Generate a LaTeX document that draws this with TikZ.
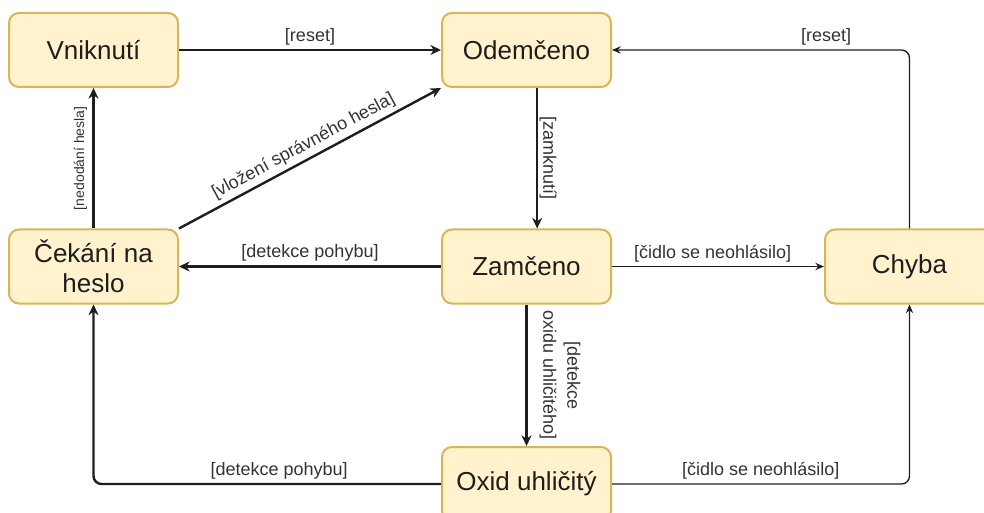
\documentclass[tikz,border=0pt]{standalone}
\usepackage{fontspec}
\setmainfont{Liberation Sans}
\usetikzlibrary{arrows.meta}
\definecolor{lkFill}{HTML}{FFF2CC}
\definecolor{lkLine}{HTML}{D6B656}
\definecolor{lkInk}{HTML}{1E1E1E}
\definecolor{lkText}{HTML}{333333}
\tikzset{
  lk state/.style={rectangle, rounded corners=7.5pt, draw=lkLine, fill=lkFill, line width=1.5pt, minimum width=126.75pt, minimum height=55.5pt, inner sep=0pt, align=center, font=\fontsize{19.5}{22.5}\selectfont, text=lkInk},
  lk edge/.style={draw=lkInk, line width=1.8pt, -{Stealth[length=8pt,width=7.5pt]}},
  lk thin edge/.style={draw=lkInk, line width=1pt, -{Stealth[length=6.5pt,width=5.5pt]}},
  lk label/.style={font=\fontsize{13.5}{18}\selectfont, text=lkText, inner sep=2pt},
  lk small label/.style={font=\fontsize{10.5}{13}\selectfont, text=lkText, inner sep=2pt},
}

\begin{document}
\begin{tikzpicture}[x=0.75pt, y=-0.75pt]
  \useasboundingbox (0,0) rectangle (984,513);
  \clip (0,0) rectangle (984,513);

  % States
  \node[lk state] (vnik)   at (93.5,50)   {Vniknutí};
  \node[lk state] (odem)   at (526.5,50)  {Odemčeno};
  \node[lk state] (cekani) at (93.5,266.5) {Čekání na\\heslo};
  \node[lk state] (zamc)   at (526.5,266.5) {Zamčeno};
  \node[lk state] (chyba)  at (909.5,266.5) {Chyba};
  \node[lk state] (oxid)   at (526.5,484) {Oxid uhličitý};

  % Top row
  \draw[lk edge] (vnik) -- node[lk label, midway, above=1pt] {[reset]} (odem);
  \draw[lk thin edge, rounded corners=6pt] (chyba.north) |- node[lk label, pos=0.64, above=1pt] {[reset]} (odem.east);

  % Around the waiting state
  \draw[lk edge] (cekani) -- node[lk small label, midway, sloped, above=2pt] {[nedodání hesla]} (vnik);
  \draw[lk edge] (cekani.north east) -- node[lk label, midway, sloped, above=1pt] {[vložení správného hesla]} (odem.south west);

  % Middle row
  \draw[lk edge] ([xshift=8pt]odem.south) -- node[lk label, midway, sloped, above=0pt, inner sep=1pt] {[zamknutí]} ([xshift=8pt]zamc.north);
  \draw[lk edge] (zamc) -- node[lk label, midway, above=1pt] {[detekce pohybu]} (cekani);
  \draw[lk thin edge] (zamc) -- node[lk label, midway, above=1pt, xshift=-4pt] {[čidlo se neohlásilo]} (chyba);
  \draw[lk edge] (zamc) -- node[lk label, midway, sloped, above=7pt, align=center] {[detekce\\oxidu uhličitého]} (oxid);

  % Bottom row
  \draw[lk edge, rounded corners=6pt] (oxid.west) -| node[lk label, pos=0.233, above=1pt] {[detekce pohybu]} (cekani.south);
  \draw[lk thin edge, rounded corners=6pt] (oxid.east) -| node[lk label, pos=0.25, above=1pt] {[čidlo se neohlásilo]} (chyba.south);
\end{tikzpicture}
\end{document}
